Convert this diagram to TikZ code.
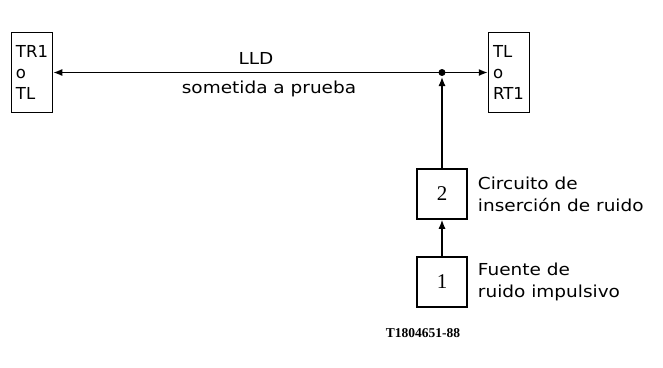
\documentclass[tikz,border=0pt]{standalone}
\usepackage{fontspec}
\setmainfont{DejaVu Sans}
\newfontfamily\lblfont{DejaVu Sans}[FakeStretch=1.12]
\newfontfamily\numfont{Liberation Serif}
\usetikzlibrary{arrows.meta,positioning}

\tikzset{
  termbox/.style={draw,line width=1.5pt,minimum width=41pt,minimum height=80pt,
    text width=32pt,inner xsep=4pt,align=left,
    font=\fontsize{16.5}{21}\selectfont},
  stagebox/.style={draw,line width=1.5pt,minimum width=50pt,minimum height=50pt,
    inner sep=0pt,font=\numfont\fontsize{21}{24}\selectfont},
  lbl/.style={inner sep=0pt,align=left,font=\lblfont\fontsize{16.5}{22}\selectfont},
  sig/.style={line width=1.3pt,-{Latex[length=9pt,width=7pt]}}
}

\begin{document}
\begin{tikzpicture}[x=1pt,y=-1pt]
\useasboundingbox (0,0) rectangle (663,367);
% terminal boxes at both ends of the link
\node[termbox] (tra) at (32,72.5) {TR1\\o\\TL};
\node[termbox] (trb) at (509,72.5) {TL\\o\\RT1};
\coordinate (jn) at (442,72.5);
\draw[sig] (jn) -- (tra.east);
\draw[sig] (jn) -- (trb.west);
\fill (jn) circle (3.5);
\node[lbl,anchor=base] (lld) at (256,64) {LLD};
\node[lbl,anchor=base] (prueba) at (269,93) {sometida a prueba};
% noise chain
\node[stagebox] (ins) at (442,194) {2};
\node[stagebox] (src) at (442,282) {1};
\draw[sig,shorten >=4.5pt] (ins.north) -- (jn);
\draw[sig] (src.north) -- (ins.south);
\node[lbl,right=10pt of ins] (instxt) {Circuito de\\inserción de ruido};
\node[lbl,right=10pt of src] (srctxt) {Fuente de\\ruido impulsivo};
\node[font=\numfont\bfseries\fontsize{13.5}{15}\selectfont] (ref) at (423,333) {T1804651-88};
\end{tikzpicture}
\end{document}
